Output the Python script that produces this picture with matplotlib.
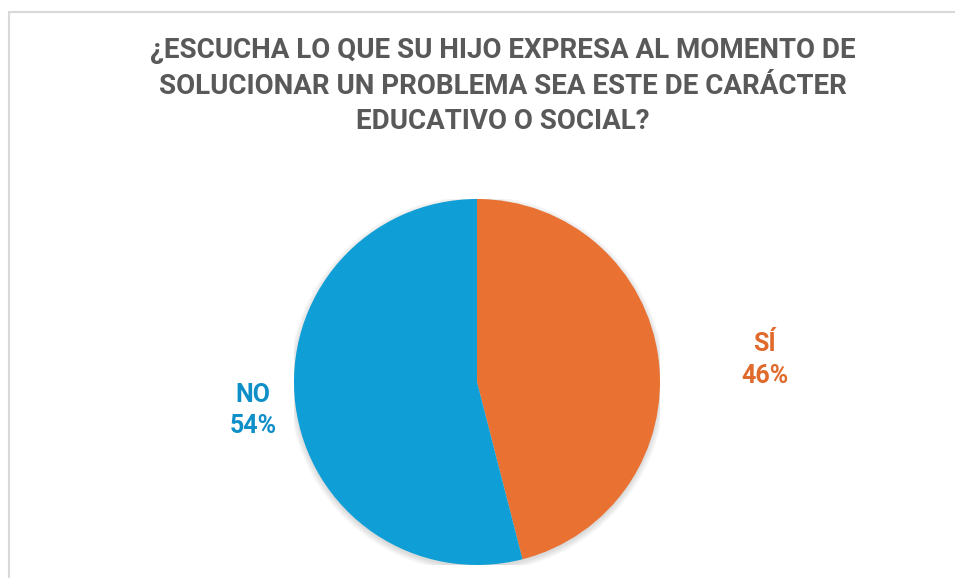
import numpy as np
import matplotlib
matplotlib.use("Agg")
import matplotlib.pyplot as plt
from matplotlib.patches import Rectangle, Circle

# data
categories = ["SÍ", "NO"]
values = [46, 54]
colors = ["#E97132", "#0F9ED5"]
label_colors = ["#E06A2C", "#0E8FC8"]
title = ("¿ESCUCHA LO QUE SU HIJO EXPRESA AL MOMENTO DE\n"
         "SOLUCIONAR UN PROBLEMA SEA ESTE DE CARÁCTER\n"
         "EDUCATIVO O SOCIAL?")

W, H = 955, 578
fig = plt.figure(figsize=(W / 100, H / 100), dpi=100)
fig.patch.set_facecolor("white")

# chart border (light gray)
fig.add_artist(Rectangle((9 / W, -0.01), 1.0, (H - 12) / H + 0.01,
                         transform=fig.transFigure, fill=False,
                         edgecolor="#D9D9D9", linewidth=1.5))

fig.text(503 / W, 1 - 86 / H, title, ha="center", va="center",
         fontsize=20, fontweight="bold", color="#595959",
         family="Roboto", linespacing=1.42)

# pie: center (477, 382), radius 183 px
ax = fig.add_axes([294 / W, 13 / H, 366 / W, 366 / H])

# soft shadow under the pie
for k in range(6):
    ax.add_patch(Circle((0, -0.012), 1.0 + 0.006 * k, color="black",
                        alpha=0.025, linewidth=0, zorder=0))

wedges, _ = ax.pie(values, colors=colors, startangle=90, counterclock=False,
                   wedgeprops=dict(linewidth=0, zorder=2))
ax.set_xlim(-1, 1)
ax.set_ylim(-1, 1)
ax.set_aspect("equal")
ax.axis("off")

# label placement: distance from center and angle shift (deg)
dist = [1.578, 1.234]
shift = [-2.8, 0.0]
for w, cat, v, c, d, s in zip(wedges, categories, values, label_colors, dist, shift):
    ang = np.deg2rad((w.theta1 + w.theta2) / 2 + s)
    x, y = d * np.cos(ang), d * np.sin(ang)
    ax.text(x, y, f"{cat}\n{v}%", ha="center", va="center", fontsize=18,
            fontweight="bold", color=c, family="Roboto", linespacing=1.4,
            clip_on=False)

fig.savefig("out.png", dpi=100)
